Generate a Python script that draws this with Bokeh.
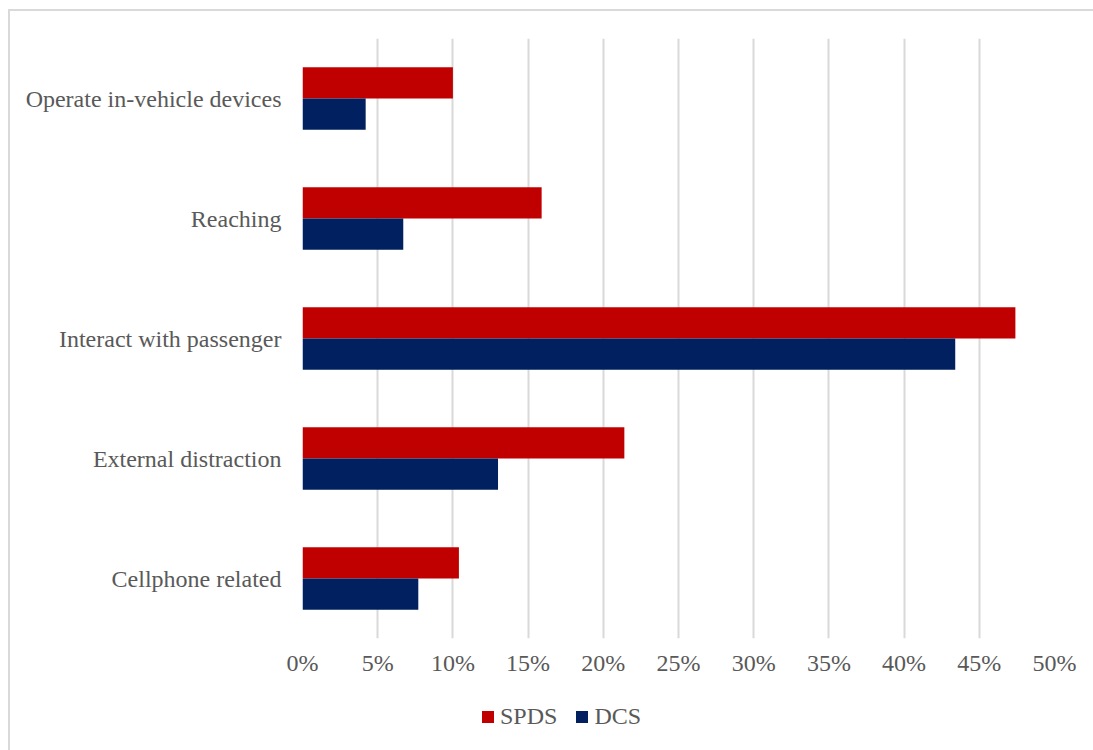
from bokeh.plotting import figure
from bokeh.layouts import column
from bokeh.models import FactorRange, FixedTicker, NumeralTickFormatter, Legend, LegendItem, ColumnDataSource
from bokeh.transform import dodge
from bokeh.embed import file_html
from bokeh.resources import INLINE

categories = ["Operate in-vehicle devices", "Reaching", "Interact with passenger",
              "External distraction", "Cellphone related"]
spds = [0.100, 0.159, 0.474, 0.214, 0.104]
dcs = [0.042, 0.067, 0.434, 0.130, 0.077]
x_ticks = [0.0, 0.05, 0.10, 0.15, 0.20, 0.25, 0.30, 0.35, 0.40, 0.45, 0.50]
series_names = ["SPDS", "DCS"]
series_cols = ["spds", "dcs"]
series_colors = ["#C00000", "#002060"]

FONT = "Liberation Serif"
GRAY = "#595959"

src = ColumnDataSource(dict(cat=categories, spds=spds, dcs=dcs))

p = figure(width=1085, height=690, output_backend="svg", toolbar_location=None,
           y_range=FactorRange(factors=list(reversed(categories))),
           x_range=(0, 0.5),
           min_border_left=292, min_border_right=41, min_border_top=27, min_border_bottom=63)

p.hbar(y=dodge("cat", 0.13, range=p.y_range), right="spds", left=0, height=0.26,
       source=src, fill_color=series_colors[0], line_color=None)
p.hbar(y=dodge("cat", -0.13, range=p.y_range), right="dcs", left=0, height=0.26,
       source=src, fill_color=series_colors[1], line_color=None)

p.outline_line_color = None
p.ygrid.grid_line_color = None
p.xgrid.grid_line_color = "#d9d9d9"
p.xgrid.grid_line_width = 2
p.xgrid.ticker = FixedTicker(ticks=x_ticks)

p.xaxis.ticker = FixedTicker(ticks=x_ticks)
p.xaxis.formatter = NumeralTickFormatter(format="0%")
for ax in (p.xaxis[0], p.yaxis[0]):
    ax.axis_line_color = None
    ax.major_tick_line_color = None
    ax.minor_tick_line_color = None
    ax.major_label_text_font = FONT
    ax.major_label_text_font_size = "24px"
    ax.major_label_text_color = GRAY
p.xaxis.major_label_standoff = 5
p.yaxis.major_label_standoff = 15

# legend-only strip below the chart (zero-width bars carry the legend swatches)
lg = figure(width=1085, height=51, output_backend="svg", toolbar_location=None,
            x_range=(0, 0.5), y_range=FactorRange(factors=list(reversed(categories))),
            min_border_left=0, min_border_right=0, min_border_top=0, min_border_bottom=0)
lg.axis.visible = False
lg.grid.visible = False
lg.outline_line_color = None
items = []
for name, colname, col in zip(series_names, series_cols, series_colors):
    r = lg.hbar(y="cat", right=colname, left=colname, height=0.26, source=src,
                fill_color=col, line_color=None)
    items.append(LegendItem(label=name, renderers=[r]))
legend = Legend(items=items, orientation="horizontal", location=(178, 22),
                label_text_font=FONT, label_text_font_size="24px", label_text_color=GRAY,
                glyph_width=15, glyph_height=15, label_standoff=5, spacing=17,
                padding=0, margin=0, border_line_color=None, background_fill_alpha=0)
lg.add_layout(legend, "center")

layout = column(p, lg, spacing=0)
layout.margin = (9, 0, 0, 8)
layout.styles = {"border-left": "2px solid #d9d9d9", "border-top": "2px solid #d9d9d9"}

open("out.html", "w").write(file_html(layout, INLINE))
